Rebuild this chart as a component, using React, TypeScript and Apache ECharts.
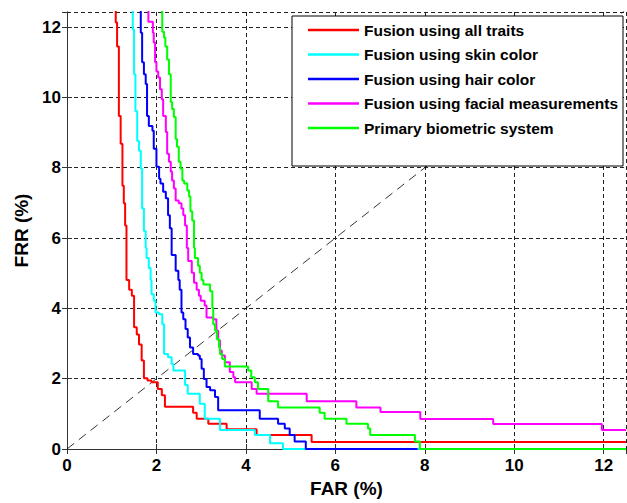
import React, { useEffect, useRef } from "react";
import * as echarts from "echarts";

// Each curve: [x, y] where x is the FAR of a vertical step and y is the FRR at the step's bottom.
const seriesNames = [
  "Fusion using all traits",
  "Fusion using skin color",
  "Fusion using hair color",
  "Fusion using facial measurements",
  "Primary biometric system",
];
const seriesColors = ["#ff0000", "#00ffff", "#0000ff", "#ff00ff", "#00ff00"];

const allTraits: [number, number][] = [
  [1.09, 12.5], [1.09, 12.13], [1.12, 11.45], [1.16, 9.47], [1.2, 8.68], [1.24, 7.49],
  [1.27, 6.99], [1.3, 6.36], [1.33, 4.81], [1.39, 4.53], [1.45, 4.36], [1.5, 3.46],
  [1.56, 3.26], [1.61, 2.97], [1.67, 2.52], [1.72, 2.01], [1.8, 1.95], [1.89, 1.9],
  [2.03, 1.71], [2.12, 1.53], [2.19, 1.2], [2.82, 1.03], [2.9, 0.86], [3.16, 0.72],
  [3.57, 0.56], [4.24, 0.4], [5.47, 0.2], [12.5, 0.2],
];
const skinColor: [number, number][] = [
  [1.47, 12.5], [1.47, 11.93], [1.5, 10.66], [1.53, 9.61], [1.57, 8.76], [1.61, 8.48],
  [1.65, 7.98], [1.68, 6.84], [1.72, 6.2], [1.76, 5.72], [1.78, 5.43], [1.83, 5.15],
  [1.87, 4.81], [1.89, 4.4], [1.94, 4.22], [1.98, 3.88], [2.06, 3.83], [2.13, 3.55],
  [2.17, 2.7], [2.26, 2.61], [2.34, 2.42], [2.38, 2.23], [2.64, 1.82], [2.7, 1.57],
  [2.97, 1.29], [3.08, 0.86], [3.42, 0.54], [4.2, 0.4], [4.54, 0.16], [4.83, 0],
  [12.5, 0],
];
const hairColor: [number, number][] = [
  [1.65, 12.5], [1.65, 11.84], [1.68, 11.0], [1.72, 10.66], [1.76, 10.38], [1.79, 9.47],
  [1.83, 9.19], [1.91, 9.05], [1.94, 8.54], [2.0, 8.03], [2.06, 7.69], [2.09, 7.55],
  [2.15, 7.32], [2.21, 7.13], [2.26, 6.65], [2.3, 6.28], [2.34, 5.52], [2.43, 5.07],
  [2.49, 4.81], [2.52, 4.53], [2.56, 3.88], [2.6, 3.69], [2.65, 3.41], [2.7, 3.17],
  [2.75, 2.89], [2.82, 2.7], [2.93, 2.66], [2.97, 2.56], [3.01, 2.28], [3.06, 1.99],
  [3.12, 1.76], [3.2, 1.67], [3.31, 1.48], [3.38, 1.1], [4.31, 0.86], [4.72, 0.72],
  [4.87, 0.58], [4.98, 0.4], [5.09, 0.21], [5.34, 0], [7.84, 0],
];
const facial: [number, number][] = [
  [1.82, 12.5], [1.82, 12.15], [1.92, 11.84], [1.94, 11.56], [1.97, 11.0], [2.0, 10.74],
  [2.04, 10.57], [2.08, 10.23], [2.12, 9.95], [2.15, 9.47], [2.21, 9.02], [2.24, 8.4],
  [2.28, 8.17], [2.32, 7.89], [2.35, 7.64], [2.39, 7.41], [2.43, 7.07], [2.5, 6.99],
  [2.56, 6.84], [2.6, 6.65], [2.64, 6.36], [2.68, 5.72], [2.71, 5.35], [2.79, 5.01],
  [2.84, 4.73], [2.9, 4.53], [2.95, 4.36], [2.99, 4.22], [3.08, 4.08], [3.12, 3.74],
  [3.27, 3.69], [3.34, 3.37], [3.38, 3.09], [3.42, 2.8], [3.46, 2.66], [3.53, 2.47],
  [3.64, 2.19], [3.72, 2.04], [3.76, 1.9], [4.13, 1.71], [4.24, 1.57], [5.36, 1.36],
  [6.47, 1.18], [7.01, 1.05], [7.9, 0.85], [9.53, 0.71], [11.96, 0.54], [12.5, 0.54],
];
const primary: [number, number][] = [
  [2.13, 12.5], [2.13, 11.87], [2.17, 11.7], [2.2, 11.45], [2.24, 11.08], [2.28, 10.66],
  [2.32, 9.87], [2.35, 9.67], [2.39, 9.44], [2.43, 8.82], [2.46, 8.6], [2.5, 8.17],
  [2.54, 7.97], [2.58, 7.64], [2.62, 7.55], [2.69, 7.35], [2.73, 7.18], [2.76, 6.76],
  [2.8, 6.5], [2.84, 5.72], [2.86, 5.43], [2.93, 5.21], [2.97, 5.01], [3.01, 4.81],
  [3.05, 4.68], [3.2, 4.49], [3.25, 4.02], [3.27, 3.55], [3.31, 3.37], [3.35, 3.12],
  [3.4, 2.89], [3.42, 2.7], [3.47, 2.56], [3.53, 2.35], [4.05, 2.23], [4.12, 2.04],
  [4.2, 1.9], [4.27, 1.71], [4.5, 1.36], [4.72, 1.18], [5.65, 1.03], [5.76, 0.86],
  [6.25, 0.72], [6.73, 0.58], [6.78, 0.4], [7.78, 0.21], [7.89, 0], [12.5, 0],
];
const diagonal: [number, number][] = [[0, 0], [12.5, 12.5]];

const curves = [allTraits, skinColor, hairColor, facial, primary];

function stepPath(pts: [number, number][]): [number, number][] {
  const out: [number, number][] = [pts[0]];
  for (let i = 1; i < pts.length; i++) {
    out.push([pts[i][0], pts[i - 1][1]]);
    out.push(pts[i]);
  }
  return out;
}

const FONT = "Liberation Sans, Arial, Helvetica, sans-serif";

export default function App() {
  const ref = useRef<HTMLDivElement>(null);
  useEffect(() => {
    if (!ref.current) return;
    const chart = echarts.init(ref.current, undefined, { renderer: "svg" });
    const axisLine = { show: true, lineStyle: { color: "#333", width: 1 } };
    const tick = { show: true, inside: true, length: 5, lineStyle: { color: "#333", width: 1 } };
    const grid = { show: true, lineStyle: { color: "#222", width: 1, type: [4, 3] as any } };
    const label = {
      fontSize: 17,
      fontWeight: "bold" as const,
      color: "#000",
      fontFamily: FONT,
      showMaxLabel: false,
      formatter: (v: number) => (v % 2 === 0 ? String(v) : ""),
    };
    const nameStyle = { fontSize: 19, fontWeight: "bold" as const, color: "#000", fontFamily: FONT };
    chart.setOption({
      animation: false,
      backgroundColor: "#fff",
      grid: { left: 67, right: 1, top: 12, bottom: 51 },
      xAxis: [
        {
          type: "value", min: 0, max: 12.5, interval: 2, position: "bottom",
          axisLine, axisTick: tick, axisLabel: { ...label, margin: 8 }, splitLine: grid,
          name: "FAR (%)", nameLocation: "middle", nameGap: 30, nameTextStyle: nameStyle,
        },
        {
          type: "value", min: 0, max: 12.5, interval: 2, position: "top",
          axisLine, axisTick: tick, axisLabel: { show: false }, splitLine: { show: false },
        },
      ],
      yAxis: [
        {
          type: "value", min: 0, max: 12.43, interval: 2, position: "left",
          axisLine, axisTick: tick, axisLabel: { ...label, margin: 6 }, splitLine: grid,
          name: "FRR (%)", nameLocation: "middle", nameGap: 36, nameTextStyle: nameStyle,
        },
        {
          type: "value", min: 0, max: 12.43, interval: 2, position: "right",
          axisLine, axisTick: tick, axisLabel: { show: false }, splitLine: { show: false },
        },
      ],
      legend: {
        data: seriesNames,
        orient: "vertical",
        left: 303,
        top: 17,
        icon: "rect",
        itemWidth: 51,
        itemHeight: 2.5,
        itemGap: 8.5,
        z: 11,
        textStyle: { fontSize: 15.5, fontWeight: "bold", color: "#000", fontFamily: FONT, lineHeight: 16 },
      },
      graphic: [
        {
          type: "rect",
          z: 10,
          shape: { x: 292, y: 16, width: 331, height: 150 },
          style: { fill: "#fff", stroke: "#000", lineWidth: 1 },
        },
      ],
      series: [
        {
          type: "line",
          name: "diagonal",
          data: diagonal,
          symbol: "none",
          z: 1,
          lineStyle: { color: "#000", width: 0.8, type: [9, 6] },
          silent: true,
        },
        ...curves.map((c, i) => ({
          type: "line",
          name: seriesNames[i],
          data: stepPath(c),
          symbol: "none",
          showSymbol: false,
          z: 2 + i * 0.01,
          itemStyle: { color: seriesColors[i] },
          lineStyle: { color: seriesColors[i], width: 2 },
        })),
      ],
    });
    return () => chart.dispose();
  }, []);
  return (
    <div
      ref={ref}
      style={{ position: "fixed", left: 0, top: 0, width: 627, height: 503 }}
    />
  );
}
